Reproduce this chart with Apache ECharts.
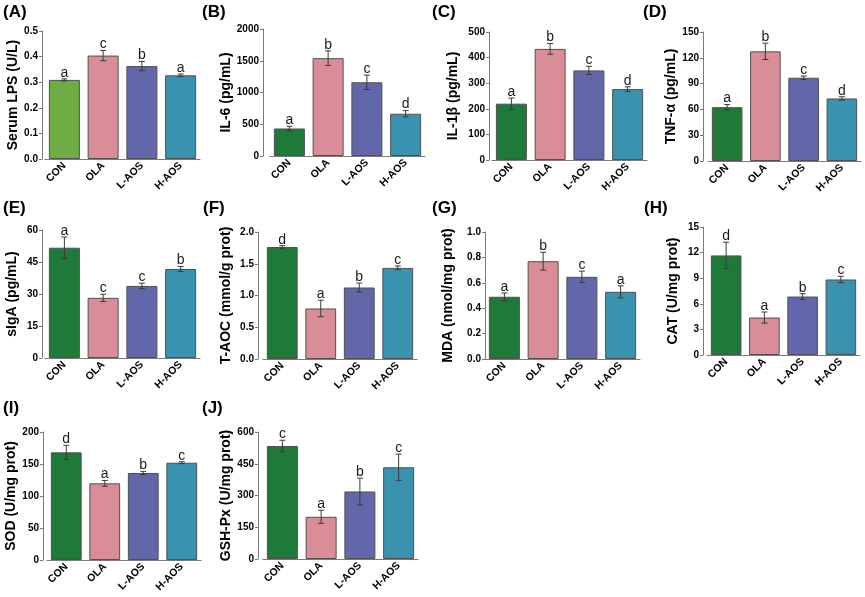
<!DOCTYPE html>
<html>
<head>
<meta charset="utf-8">
<script src="https://cdn.jsdelivr.net/npm/echarts@6/dist/echarts.min.js"></script>
<style>
html,body{margin:0;padding:0;background:#fff;}
#chart{width:865px;height:597px;}
</style>
</head>
<body>
<div id="chart"></div>
<script>
// ---- data ----
const categories = ['CON', 'OLA', 'L-AOS', 'H-AOS'];

const lpsMean = [0.309, 0.404, 0.363, 0.327];
const lpsErr = [0.004, 0.020, 0.018, 0.005];
const lpsLetters = ['a', 'c', 'b', 'a'];

const il6Mean = [433, 1541, 1161, 665];
const il6Err = [35, 115, 113, 50];
const il6Letters = ['a', 'b', 'c', 'd'];

const il1bMean = [220, 434, 350, 277];
const il1bErr = [22, 21, 16, 9];
const il1bLetters = ['a', 'b', 'c', 'd'];

const tnfMean = [62.6, 127.5, 96.8, 72.7];
const tnfErr = [3, 9.5, 2, 2];
const tnfLetters = ['a', 'b', 'c', 'd'];

const sigaMean = [51.7, 28.2, 33.8, 41.7];
const sigaErr = [5, 1.7, 1.3, 1.2];
const sigaLetters = ['a', 'c', 'c', 'b'];

const taocMean = [1.764, 0.796, 1.126, 1.435];
const taocErr = [0.02, 0.13, 0.07, 0.03];
const taocLetters = ['d', 'a', 'b', 'c'];

const mdaMean = [0.49, 0.77, 0.647, 0.529];
const mdaErr = [0.03, 0.07, 0.045, 0.047];
const mdaLetters = ['a', 'b', 'c', 'a'];

const catMean = [11.67, 4.39, 6.85, 8.85];
const catErr = [1.55, 0.65, 0.33, 0.37];
const catLetters = ['d', 'a', 'b', 'c'];

const sodMean = [168.2, 119.8, 136, 152];
const sodErr = [11, 4.5, 2.5, 1.5];
const sodLetters = ['d', 'a', 'b', 'c'];

const gshMean = [534, 199.5, 319, 433.5];
const gshErr = [27, 31, 63, 62];
const gshLetters = ['c', 'a', 'b', 'c'];

const yTicksA = [0, 0.5, 0.1];      // min, max, interval
const yTicksB = [0, 2000, 500];
const yTicksC = [0, 500, 100];
const yTicksD = [0, 150, 30];
const yTicksE = [0, 60, 15];
const yTicksF = [0, 2.0, 0.5];
const yTicksG = [0, 1.0, 0.2];
const yTicksH = [0, 15, 3];
const yTicksI = [0, 200, 50];
const yTicksJ = [0, 600, 150];

// ---- styles & layout ----
const colorsMain = ['#1f7a3a', '#d98d96', '#6167a9', '#3a93ae'];
const colorsA = ['#6cae44', '#d98d96', '#6167a9', '#3a93ae'];
const FONT = 'Arial, "Liberation Sans", Helvetica, sans-serif';

const panels = [
  {tag:'(A)', name:'Serum LPS (U/L)', mean:lpsMean, err:lpsErr, letters:lpsLetters, ticks:yTicksA, dec:1, colors:colorsA,
   grid:{left:45, top:31, width:155, height:128}, off:3, gap:22, tx:3, ty:4},
  {tag:'(B)', name:'IL-6 (pg/mL)', mean:il6Mean, err:il6Err, letters:il6Letters, ticks:yTicksB, dec:0, colors:colorsMain,
   grid:{left:270, top:29, width:155, height:127}, off:7, gap:26, tx:202, ty:4},
  {tag:'(C)', name:'IL-1\u03b2 (pg/mL)', mean:il1bMean, err:il1bErr, letters:il1bLetters, ticks:yTicksC, dec:0, colors:colorsMain,
   grid:{left:492, top:32, width:155, height:128}, off:3, gap:29, tx:432, ty:4},
  {tag:'(D)', name:'TNF-\u03b1 (pg/mL)', mean:tnfMean, err:tnfErr, letters:tnfLetters, ticks:yTicksD, dec:0, colors:colorsMain,
   grid:{left:708, top:32, width:153, height:129}, off:5, gap:24, tx:643, ty:4},
  {tag:'(E)', name:'sIgA (pg/mL)', mean:sigaMean, err:sigaErr, letters:sigaLetters, ticks:yTicksE, dec:0, colors:colorsMain,
   grid:{left:45, top:230, width:155, height:128}, off:3, gap:23, tx:3, ty:200},
  {tag:'(F)', name:'T-AOC (mmol/g prot)', mean:taocMean, err:taocErr, letters:taocLetters, ticks:yTicksF, dec:1, colors:colorsMain,
   grid:{left:263, top:232, width:154, height:127}, off:5, gap:25, tx:203, ty:200},
  {tag:'(G)', name:'MDA (nmol/mg prot)', mean:mdaMean, err:mdaErr, letters:mdaLetters, ticks:yTicksG, dec:1, colors:colorsMain,
   grid:{left:485, top:232, width:155, height:127}, off:0, gap:30, tx:432, ty:200},
  {tag:'(H)', name:'CAT (U/mg prot)', mean:catMean, err:catErr, letters:catLetters, ticks:yTicksH, dec:0, colors:colorsMain,
   grid:{left:707, top:227, width:153, height:128}, off:4, gap:23, tx:644, ty:200},
  {tag:'(I)', name:'SOD (U/mg prot)', mean:sodMean, err:sodErr, letters:sodLetters, ticks:yTicksI, dec:0, colors:colorsMain,
   grid:{left:47, top:432, width:154, height:128}, off:4, gap:24, tx:3, ty:400},
  {tag:'(J)', name:'GSH-Px (U/mg prot)', mean:gshMean, err:gshErr, letters:gshLetters, ticks:yTicksJ, dec:0, colors:colorsMain,
   grid:{left:263, top:432, width:155, height:127}, off:5, gap:24, tx:202, ty:400}
];

const grids = [], xAxes = [], yAxes = [], series = [], graphics = [];

panels.forEach((p, k) => {
  grids.push(Object.assign({containLabel:false}, p.grid));
  xAxes.push({
    type:'category', gridIndex:k, data:categories,
    axisLine:{show:true, lineStyle:{color:'#7a7a7a', width:1}},
    axisTick:{show:false},
    axisLabel:{rotate:45, margin:5, color:'#000', fontWeight:'bold', fontSize:10.5, fontFamily:FONT, interval:0}
  });
  yAxes.push({
    type:'value', gridIndex:k, min:p.ticks[0], max:p.ticks[1], interval:p.ticks[2], offset:p.off,
    name:p.name, nameLocation:'middle', nameGap:p.gap, nameRotate:90,
    nameTextStyle:{color:'#000', fontWeight:'bold', fontSize:14, fontFamily:FONT},
    axisLine:{show:true, lineStyle:{color:'#7a7a7a', width:1}},
    axisTick:{show:true, length:3, lineStyle:{color:'#7a7a7a'}},
    splitLine:{show:false},
    axisLabel:{margin:4, color:'#000', fontWeight:'bold', fontSize:10, fontFamily:FONT,
      formatter: v => v.toFixed(p.dec)}
  });
  series.push({
    type:'bar', xAxisIndex:k, yAxisIndex:k, barCategoryGap:'20%',
    data: p.mean.map((v, i) => ({value:v, itemStyle:{color:p.colors[i]}})),
    itemStyle:{borderColor:'#505050', borderWidth:1},
    silent:true, animation:false
  });
  const letters = p.letters;
  series.push({
    type:'custom', xAxisIndex:k, yAxisIndex:k, z:5, animation:false, silent:true,
    data: p.mean.map((v, i) => [i, v, p.err[i]]),
    renderItem: function(params, api){
      const i = api.value(0), m = api.value(1), e = api.value(2);
      const t = api.coord([i, m + e]);
      const b = api.coord([i, m - e]);
      const cw = 3;
      const st = {stroke:'#3a3a3a', lineWidth:1};
      return {type:'group', children:[
        {type:'line', shape:{x1:t[0], y1:t[1], x2:b[0], y2:b[1]}, style:st},
        {type:'line', shape:{x1:t[0]-cw, y1:t[1], x2:t[0]+cw, y2:t[1]}, style:st},
        {type:'line', shape:{x1:b[0]-cw, y1:b[1], x2:b[0]+cw, y2:b[1]}, style:st},
        {type:'text', style:{x:t[0], y:t[1]+1, text:letters[params.dataIndex], textAlign:'center', textVerticalAlign:'bottom',
          fill:'#1a1a1a', fontSize:14, fontFamily:FONT}}
      ]};
    }
  });
  graphics.push({type:'text', left:p.tx, top:p.ty, style:{text:p.tag, fill:'#000', font:'bold 17px ' + FONT}});
});

const chart = echarts.init(document.getElementById('chart'), null, {renderer:'canvas'});
chart.setOption({
  animation:false,
  backgroundColor:'#fff',
  grid:grids, xAxis:xAxes, yAxis:yAxes, series:series, graphic:graphics
});
</script>
</body>
</html>
